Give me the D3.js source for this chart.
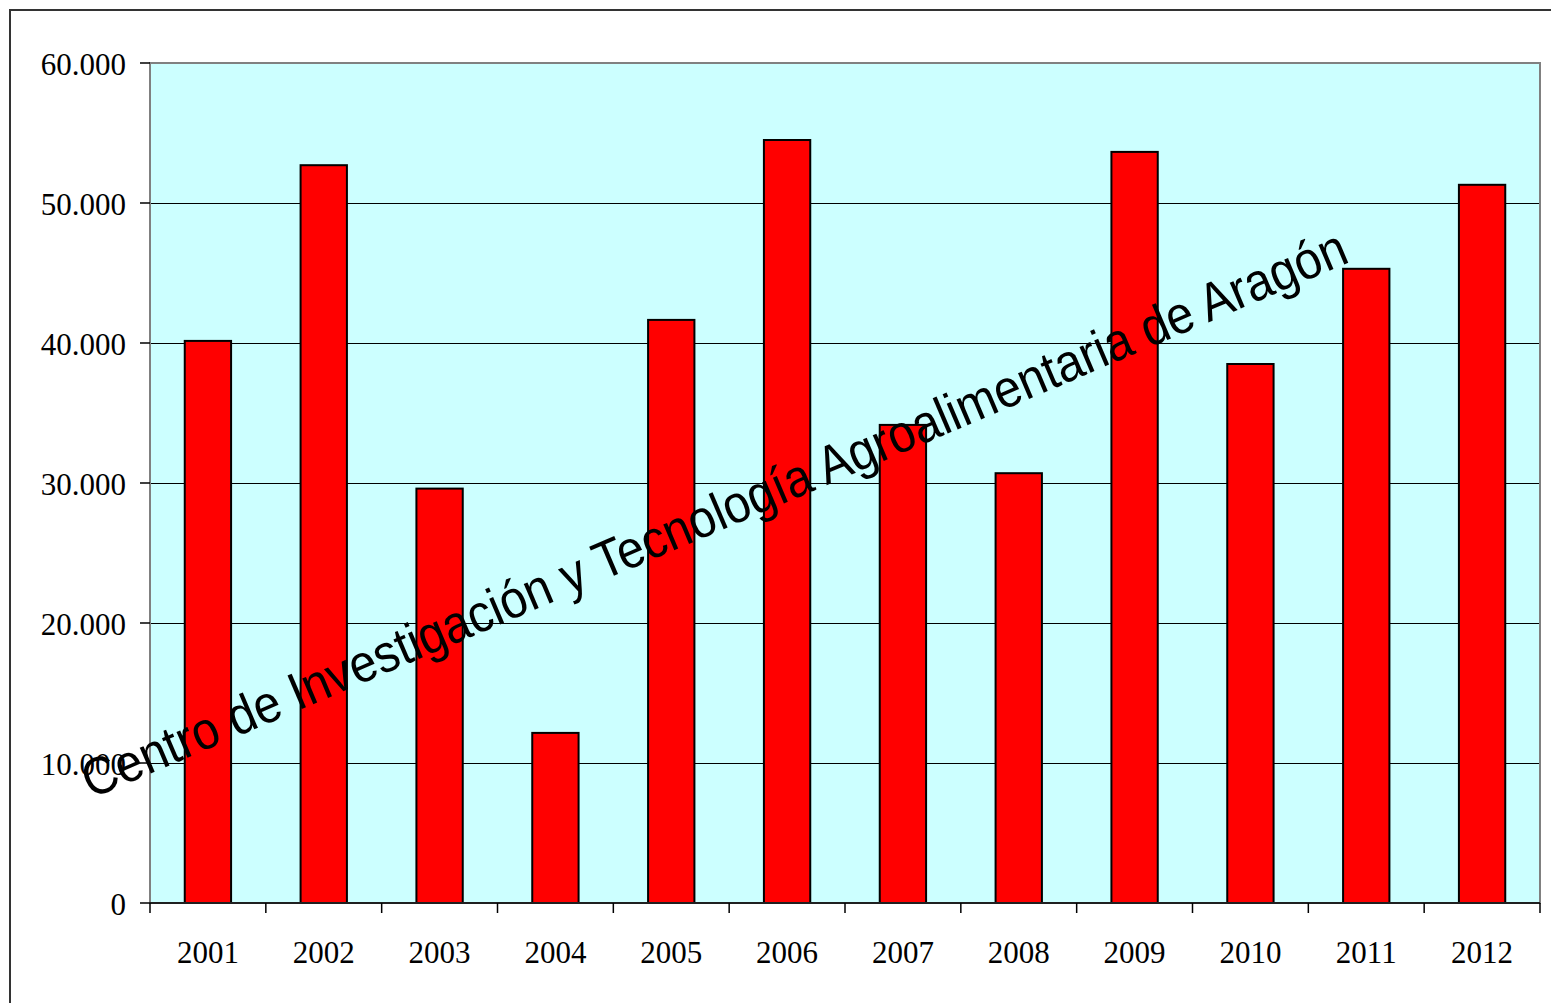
<!DOCTYPE html>
<html>
<head>
<meta charset="utf-8">
<script src="https://cdn.jsdelivr.net/npm/d3@7"></script>
<style>
  html, body { margin: 0; padding: 0; background: #fff; }
  svg { display: block; }
</style>
</head>
<body>
<div id="chart"></div>
<script>
// values
const years = ["2001", "2002", "2003", "2004", "2005", "2006", "2007", "2008", "2009", "2010", "2011", "2012"];
const values = [40150, 52700, 29600, 12150, 41650, 54500, 34150, 30700, 53650, 38500, 45300, 51300];
const yTicks = [0, 10000, 20000, 30000, 40000, 50000, 60000];
const watermark = "Centro de Investigación y Tecnología Agroalimentaria de Aragón";

const width = 1551, height = 1003;
const margin = { top: 63, right: 11, bottom: 100, left: 150 };

const svg = d3.select("#chart").append("svg")
    .attr("width", width)
    .attr("height", height);

// outer frame (runs off the right and bottom edges)
svg.append("rect")
    .attr("x", 10).attr("y", 10)
    .attr("width", 1600).attr("height", 1100)
    .attr("fill", "none")
    .attr("stroke", "#333")
    .attr("stroke-width", 2);

const x = d3.scaleBand()
    .domain(years)
    .range([margin.left, width - margin.right])
    .paddingInner(0.6)
    .paddingOuter(0.3);

const y = d3.scaleLinear()
    .domain([0, 60000])
    .range([height - margin.bottom, margin.top]);

const x0 = margin.left, x1 = width - margin.right;
const yb = y(0), yt = y(60000);

// plot area
svg.append("rect")
    .attr("x", x0).attr("y", yt)
    .attr("width", x1 - x0).attr("height", yb - yt)
    .attr("fill", "#ccffff");

// gridlines
svg.selectAll("line.grid")
    .data(yTicks.filter(d => d > 0 && d < 60000))
    .enter()
    .append("line")
    .attr("class", "grid")
    .attr("x1", x0).attr("x2", x1)
    .attr("y1", d => y(d) + 0.5).attr("y2", d => y(d) + 0.5)
    .attr("stroke", "#000")
    .attr("stroke-width", 1)
    .attr("shape-rendering", "crispEdges");

// bars
svg.selectAll("rect.bar")
    .data(values)
    .enter()
    .append("rect")
    .attr("class", "bar")
    .attr("x", (d, i) => x(years[i]))
    .attr("y", d => y(d))
    .attr("width", x.bandwidth())
    .attr("height", d => yb - y(d))
    .attr("fill", "#ff0000")
    .attr("stroke", "#000")
    .attr("stroke-width", 2);

// plot border
svg.append("rect")
    .attr("x", x0).attr("y", yt)
    .attr("width", x1 - x0).attr("height", yb - yt)
    .attr("fill", "none")
    .attr("stroke", "#808080")
    .attr("stroke-width", 2);

// y axis ticks and labels
const fmt = d => d === 0 ? "0" : d3.format(",")(d).replace(/,/g, ".");
const yAxis = svg.append("g");
yAxis.selectAll("line")
    .data(yTicks)
    .enter()
    .append("line")
    .attr("x1", x0 - 10).attr("x2", x0)
    .attr("y1", d => y(d)).attr("y2", d => y(d))
    .attr("stroke", "#000")
    .attr("stroke-width", 1.5);
yAxis.selectAll("text")
    .data(yTicks)
    .enter()
    .append("text")
    .attr("x", x0 - 24)
    .attr("y", d => y(d))
    .attr("dy", "0.4em")
    .attr("text-anchor", "end")
    .style("font-family", "'Liberation Serif', 'Times New Roman', serif")
    .style("font-size", "31px")
    .text(fmt);

// x axis line, boundary ticks, labels
const xAxis = svg.append("g");
xAxis.append("line")
    .attr("x1", x0).attr("x2", x1)
    .attr("y1", yb).attr("y2", yb)
    .attr("stroke", "#000")
    .attr("stroke-width", 1.5);
xAxis.selectAll("line.tick")
    .data(d3.range(years.length + 1))
    .enter()
    .append("line")
    .attr("class", "tick")
    .attr("x1", i => x0 + i * x.step()).attr("x2", i => x0 + i * x.step())
    .attr("y1", yb).attr("y2", yb + 10)
    .attr("stroke", "#000")
    .attr("stroke-width", 1.5);
xAxis.selectAll("text")
    .data(years)
    .enter()
    .append("text")
    .attr("x", d => x(d) + x.bandwidth() / 2)
    .attr("y", yb + 60)
    .attr("text-anchor", "middle")
    .style("font-family", "'Liberation Serif', 'Times New Roman', serif")
    .style("font-size", "31px")
    .text(d => d);

// diagonal watermark
svg.append("text")
    .attr("transform", "translate(91,799) rotate(-23.1)")
    .style("font-family", "'Liberation Sans', Arial, sans-serif")
    .style("font-size", "53px")
    .attr("textLength", 1370)
    .attr("lengthAdjust", "spacingAndGlyphs")
    .attr("fill", "#000")
    .text(watermark);
</script>
</body>
</html>
